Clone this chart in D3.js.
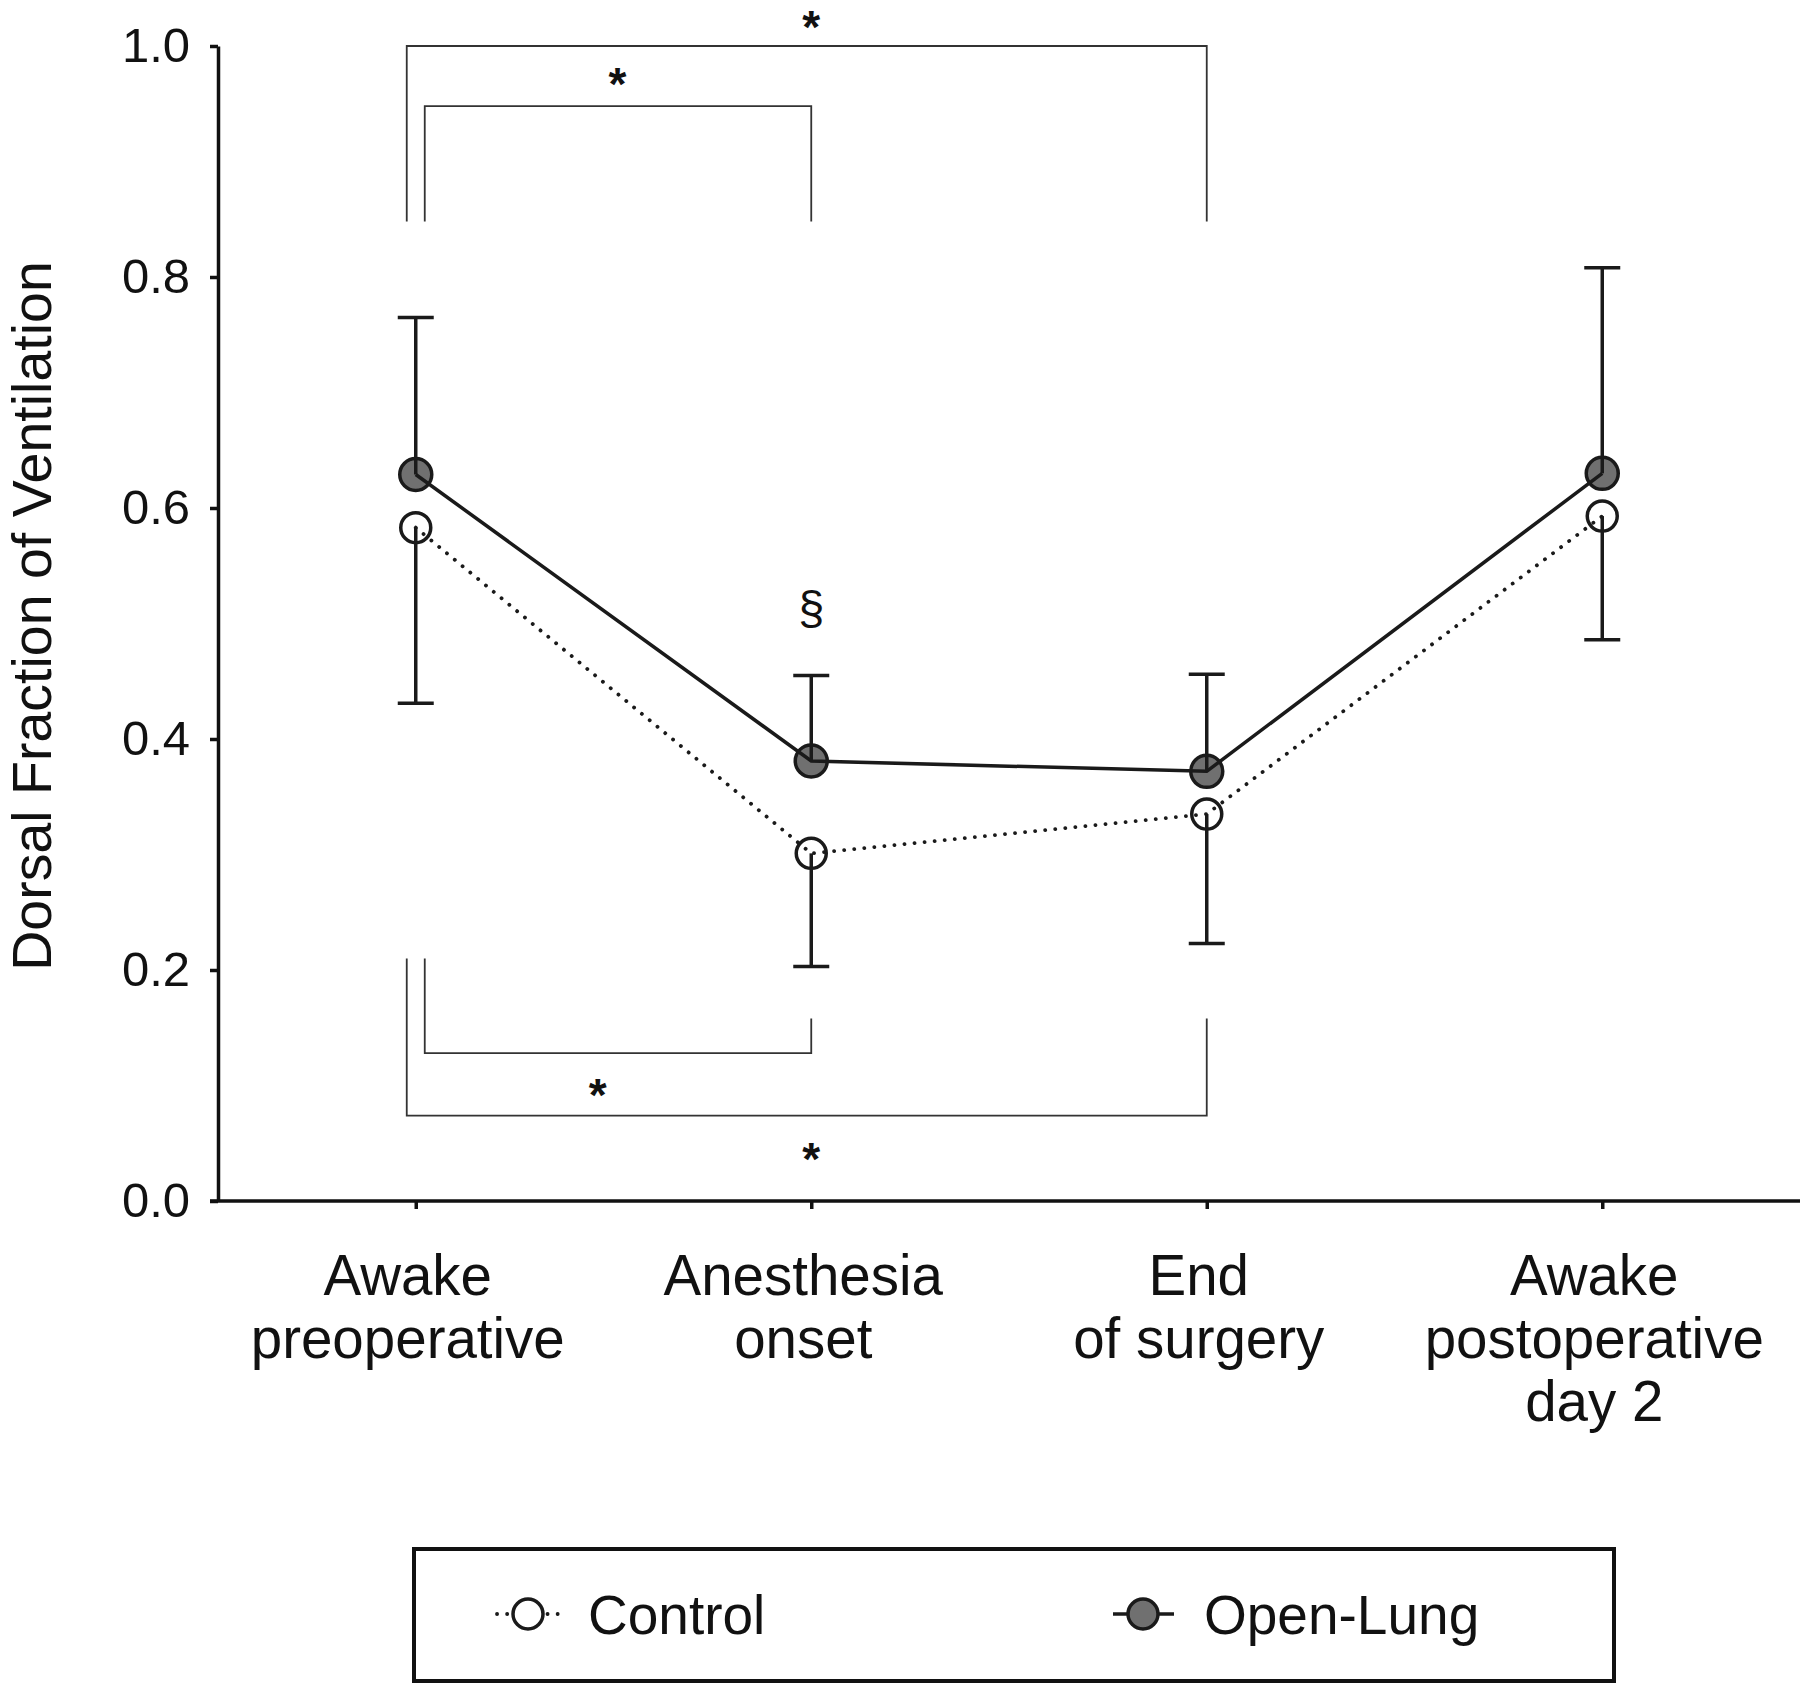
<!DOCTYPE html>
<meta charset="utf-8">
<style>
    body { margin: 0; background: #fff; }
    svg { display: block; }
    text { font-family: "Liberation Sans", Arial, sans-serif; fill: #111; }
    .axis path, .axis line { stroke: #111; stroke-width: 3.5px; }
    .bracket { fill: none; stroke: #333; stroke-width: 1.8px; }
    .errbar { stroke: #1a1a1a; stroke-width: 3.5px; }
</style>
<script src="https://cdn.jsdelivr.net/npm/d3@7"></script>
<svg width="1800" height="1685"></svg>
<script>
    // categorias (linhas de cada rotulo)
    var categorias = ["pre", "onset", "end", "post"];
    var rotulos = [
        ["Awake", "preoperative"],
        ["Anesthesia", "onset"],
        ["End", "of surgery"],
        ["Awake", "postoperative", "day 2"]
    ];
    var yTicks = [0, 0.2, 0.4, 0.6, 0.8, 1.0];

    // valores
    var openLung = [0.629, 0.381, 0.372, 0.630];
    var openLungSup = [0.765, 0.455, 0.456, 0.808];
    var controle = [0.583, 0.301, 0.335, 0.593];
    var controleInf = [0.431, 0.203, 0.223, 0.486];

    // colchetes de significancia
    var colchetes = [
        { a: 0, b: 2, nivel: 1.0, pernaA: 0.848, pernaB: 0.848, dx: -9, sx: 0.5, sy: 1.024 },
        { a: 0, b: 1, nivel: 0.948, pernaA: 0.848, pernaB: 0.848, dx: 9, sx: 0.51, sy: 0.975 },
        { a: 0, b: 1, nivel: 0.128, pernaA: 0.21, pernaB: 0.158, dx: 9, sx: 0.46, sy: 0.1 },
        { a: 0, b: 2, nivel: 0.074, pernaA: 0.21, pernaB: 0.158, dx: -9, sx: 0.5, sy: 0.044 }
    ];

    var svg = d3.select("svg");

    var x = d3.scalePoint()
        .domain(categorias)
        .range([218, 1800])
        .padding(0.5);

    var y = d3.scaleLinear()
        .domain([0, 1])
        .range([1201, 46]);

    // eixo y
    var gy = svg.append("g")
        .attr("class", "axis")
        .attr("transform", "translate(218,0)")
        .call(d3.axisLeft(y).tickValues(yTicks).tickSize(8).tickSizeOuter(0).tickFormat(d3.format(".1f")));
    gy.selectAll("text")
        .attr("x", -28)
        .style("font-size", "49px");

    // eixo x
    var gx = svg.append("g")
        .attr("class", "axis")
        .attr("transform", "translate(0,1201)")
        .call(d3.axisBottom(x).tickSize(8).tickSizeOuter(0).tickFormat(""));
    gx.select("path").attr("d", "M210,0H1800");

    categorias.forEach(function (c, i) {
        var t = svg.append("text")
            .attr("text-anchor", "middle")
            .style("font-size", "56.5px");
        rotulos[i].forEach(function (linha, j) {
            t.append("tspan")
                .attr("x", x(c) - 8)
                .attr("y", 1295 + j * 63)
                .text(linha);
        });
    });

    svg.append("text")
        .attr("transform", "translate(51,616) rotate(-90)")
        .attr("text-anchor", "middle")
        .style("font-size", "55.5px")
        .text("Dorsal Fraction of Ventilation");

    // colchetes
    colchetes.forEach(function (c) {
        var x0 = x(categorias[c.a]),
            xa = x0 + c.dx,
            xb = x(categorias[c.b]);
        svg.append("path")
            .attr("class", "bracket")
            .attr("d", "M" + xa + "," + y(c.pernaA) + "V" + y(c.nivel) + "H" + xb + "V" + y(c.pernaB));
        svg.append("text")
            .attr("x", x0 + (xb - x0) * c.sx)
            .attr("y", y(c.sy) + 25)
            .attr("text-anchor", "middle")
            .style("font-size", "46px")
            .style("font-weight", "bold")
            .text("*");
    });

    svg.append("text")
        .attr("x", x(categorias[1]))
        .attr("y", y(0.51) + 12)
        .attr("text-anchor", "middle")
        .style("font-size", "47px")
        .text("\u00a7");

    // marcadores
    svg.selectAll(".mc")
        .data(controle)
        .enter().append("circle")
        .attr("cx", function (d, i) { return x(categorias[i]); })
        .attr("cy", function (d) { return y(d); })
        .attr("r", 15)
        .attr("fill", "#fff")
        .attr("stroke", "#1a1a1a")
        .attr("stroke-width", 3.5);

    svg.selectAll(".mo")
        .data(openLung)
        .enter().append("circle")
        .attr("cx", function (d, i) { return x(categorias[i]); })
        .attr("cy", function (d) { return y(d); })
        .attr("r", 16)
        .attr("fill", "#707070")
        .attr("stroke", "#1a1a1a")
        .attr("stroke-width", 3.5);

    var linha = d3.line()
        .x(function (d, i) { return x(categorias[i]); })
        .y(function (d) { return y(d); });

    svg.append("path")
        .datum(controle)
        .attr("d", linha)
        .attr("fill", "none")
        .attr("stroke", "#1a1a1a")
        .attr("stroke-width", 3.8)
        .attr("stroke-linecap", "round")
        .attr("stroke-dasharray", "0.1 10");

    svg.append("path")
        .datum(openLung)
        .attr("d", linha)
        .attr("fill", "none")
        .attr("stroke", "#1a1a1a")
        .attr("stroke-width", 3.5);

    // barras de erro
    function barras(centro, extremo) {
        centro.forEach(function (v, i) {
            var cx = x(categorias[i]);
            svg.append("line").attr("class", "errbar")
                .attr("x1", cx).attr("x2", cx)
                .attr("y1", y(v)).attr("y2", y(extremo[i]));
            svg.append("line").attr("class", "errbar")
                .attr("x1", cx - 18).attr("x2", cx + 18)
                .attr("y1", y(extremo[i])).attr("y2", y(extremo[i]));
        });
    }
    barras(openLung, openLungSup);
    barras(controle, controleInf);

    // legenda
    var leg = svg.append("g");
    leg.append("rect")
        .attr("x", 414).attr("y", 1549)
        .attr("width", 1200).attr("height", 132)
        .attr("fill", "none")
        .attr("stroke", "#111")
        .attr("stroke-width", 4);

    leg.append("line")
        .attr("x1", 497).attr("x2", 558)
        .attr("y1", 1614).attr("y2", 1614)
        .attr("stroke", "#1a1a1a")
        .attr("stroke-width", 3.8)
        .attr("stroke-linecap", "round")
        .attr("stroke-dasharray", "0.1 10");
    leg.append("circle")
        .attr("cx", 528).attr("cy", 1614).attr("r", 15)
        .attr("fill", "#fff").attr("stroke", "#1a1a1a").attr("stroke-width", 3.5);
    leg.append("text")
        .attr("x", 588).attr("y", 1634)
        .style("font-size", "55px")
        .text("Control");

    leg.append("line")
        .attr("x1", 1113).attr("x2", 1174)
        .attr("y1", 1614).attr("y2", 1614)
        .attr("stroke", "#1a1a1a")
        .attr("stroke-width", 3.5);
    leg.append("circle")
        .attr("cx", 1143).attr("cy", 1614).attr("r", 15)
        .attr("fill", "#707070").attr("stroke", "#1a1a1a").attr("stroke-width", 3.5);
    leg.append("text")
        .attr("x", 1204).attr("y", 1634)
        .style("font-size", "55px")
        .text("Open-Lung");
</script>
